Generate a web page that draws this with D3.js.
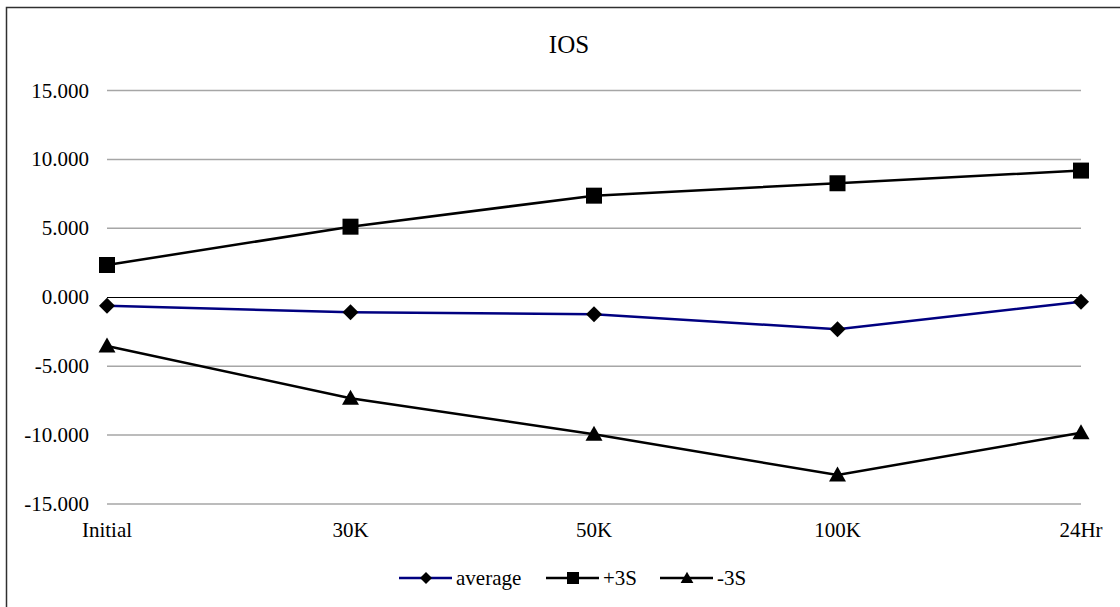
<!DOCTYPE html>
<html>
<head>
<meta charset="utf-8">
<script src="https://cdn.jsdelivr.net/npm/d3@7"></script>
<style>
  body { margin: 0; background: #fff; }
  svg text { font-family: "Liberation Serif", "Times New Roman", Times, "DejaVu Serif", serif; }
</style>
</head>
<body>
<svg id="chart" width="1120" height="607"></svg>
<script>
const title = "IOS";
const categories = ["Initial", "30K", "50K", "100K", "24Hr"];
const averageValues = [-0.61, -1.09, -1.23, -2.32, -0.32];
const plus3SValues = [2.34, 5.12, 7.37, 8.27, 9.19];
const minus3SValues = [-3.53, -7.33, -9.94, -12.9, -9.83];
const yTicks = [-15, -10, -5, 0, 5, 10, 15];
const seriesNames = ["average", "+3S", "-3S"];
const seriesColors = ["#000080", "#000000", "#000000"];
const seriesMarkers = ["diamond", "square", "triangle"];

const svg = d3.select("#chart");
const W = 1120, H = 607;
const FONT = "'Liberation Serif', 'Times New Roman', Times, 'DejaVu Serif', serif";

// chart border
svg.append("rect").attr("x", 6.5).attr("y", 7.5).attr("width", W).attr("height", H)
  .attr("fill", "none").attr("stroke", "#303030").attr("stroke-width", 1.5);

const x = d3.scalePoint().domain(categories).range([107, 1081]);
const y = d3.scaleLinear().domain([-15, 15]).range([504, 90.5]);

// title
svg.append("text").attr("x", 569).attr("y", 53).attr("text-anchor", "middle")
  .attr("font-family", FONT).attr("font-size", 25).attr("fill", "#000").text(title);

// gridlines
svg.append("g").selectAll("line").data(yTicks.filter(d => d !== 0)).join("line")
  .attr("x1", 107).attr("x2", 1081)
  .attr("y1", d => y(d)).attr("y2", d => y(d))
  .attr("stroke", "#a6a6a6").attr("stroke-width", 1.5);

// y axis labels
const fmt = d => d3.format(".3f")(d).replace("\u2212", "-");
svg.append("g").selectAll("text").data(yTicks).join("text")
  .attr("x", 89).attr("y", d => y(d) + 7)
  .attr("text-anchor", "end").attr("font-family", FONT).attr("font-size", 21).attr("fill", "#000")
  .text(d => fmt(d));

// zero axis line
svg.append("line").attr("x1", 107).attr("x2", 1081)
  .attr("y1", Math.round(y(0)) + 0.5).attr("y2", Math.round(y(0)) + 0.5)
  .attr("stroke", "#000").attr("stroke-width", 1);

// x labels
svg.append("g").selectAll("text").data(categories).join("text")
  .attr("x", d => x(d)).attr("y", 537)
  .attr("text-anchor", "middle").attr("font-family", FONT).attr("font-size", 21).attr("fill", "#000")
  .text(d => d);

function markerPath(type) {
  if (type === "diamond") return "M0,-8L8,0L0,8L-8,0Z";
  if (type === "square") return "M-8,-8H8V8H-8Z";
  return "M0,-8.5L8.5,6.5L-8.5,6.5Z";
}

const allSeries = [averageValues, plus3SValues, minus3SValues];
const line = d3.line().x((d, i) => x(categories[i])).y(d => y(d));

allSeries.forEach((vals, si) => {
  svg.append("path").datum(vals).attr("d", line)
    .attr("fill", "none").attr("stroke", seriesColors[si]).attr("stroke-width", 2.5);
  svg.append("g").selectAll("path").data(vals).join("path")
    .attr("transform", (d, i) => `translate(${x(categories[i])},${y(d)})`)
    .attr("d", markerPath(seriesMarkers[si])).attr("fill", "#000");
});

// legend
const legendX = [399, 546, 660];
const legendY = 578;
seriesNames.forEach((name, i) => {
  const g = svg.append("g").attr("transform", `translate(${legendX[i]},${legendY})`);
  g.append("line").attr("x1", 0).attr("x2", 53).attr("y1", 0).attr("y2", 0)
    .attr("stroke", seriesColors[i]).attr("stroke-width", 2.5);
  g.append("path").attr("transform", "translate(27,0) scale(0.75)")
    .attr("d", markerPath(seriesMarkers[i])).attr("fill", "#000");
  g.append("text").attr("x", 57).attr("y", 7).attr("font-family", FONT).attr("font-size", 21).attr("fill", "#000").text(name);
});
</script>
</body>
</html>
